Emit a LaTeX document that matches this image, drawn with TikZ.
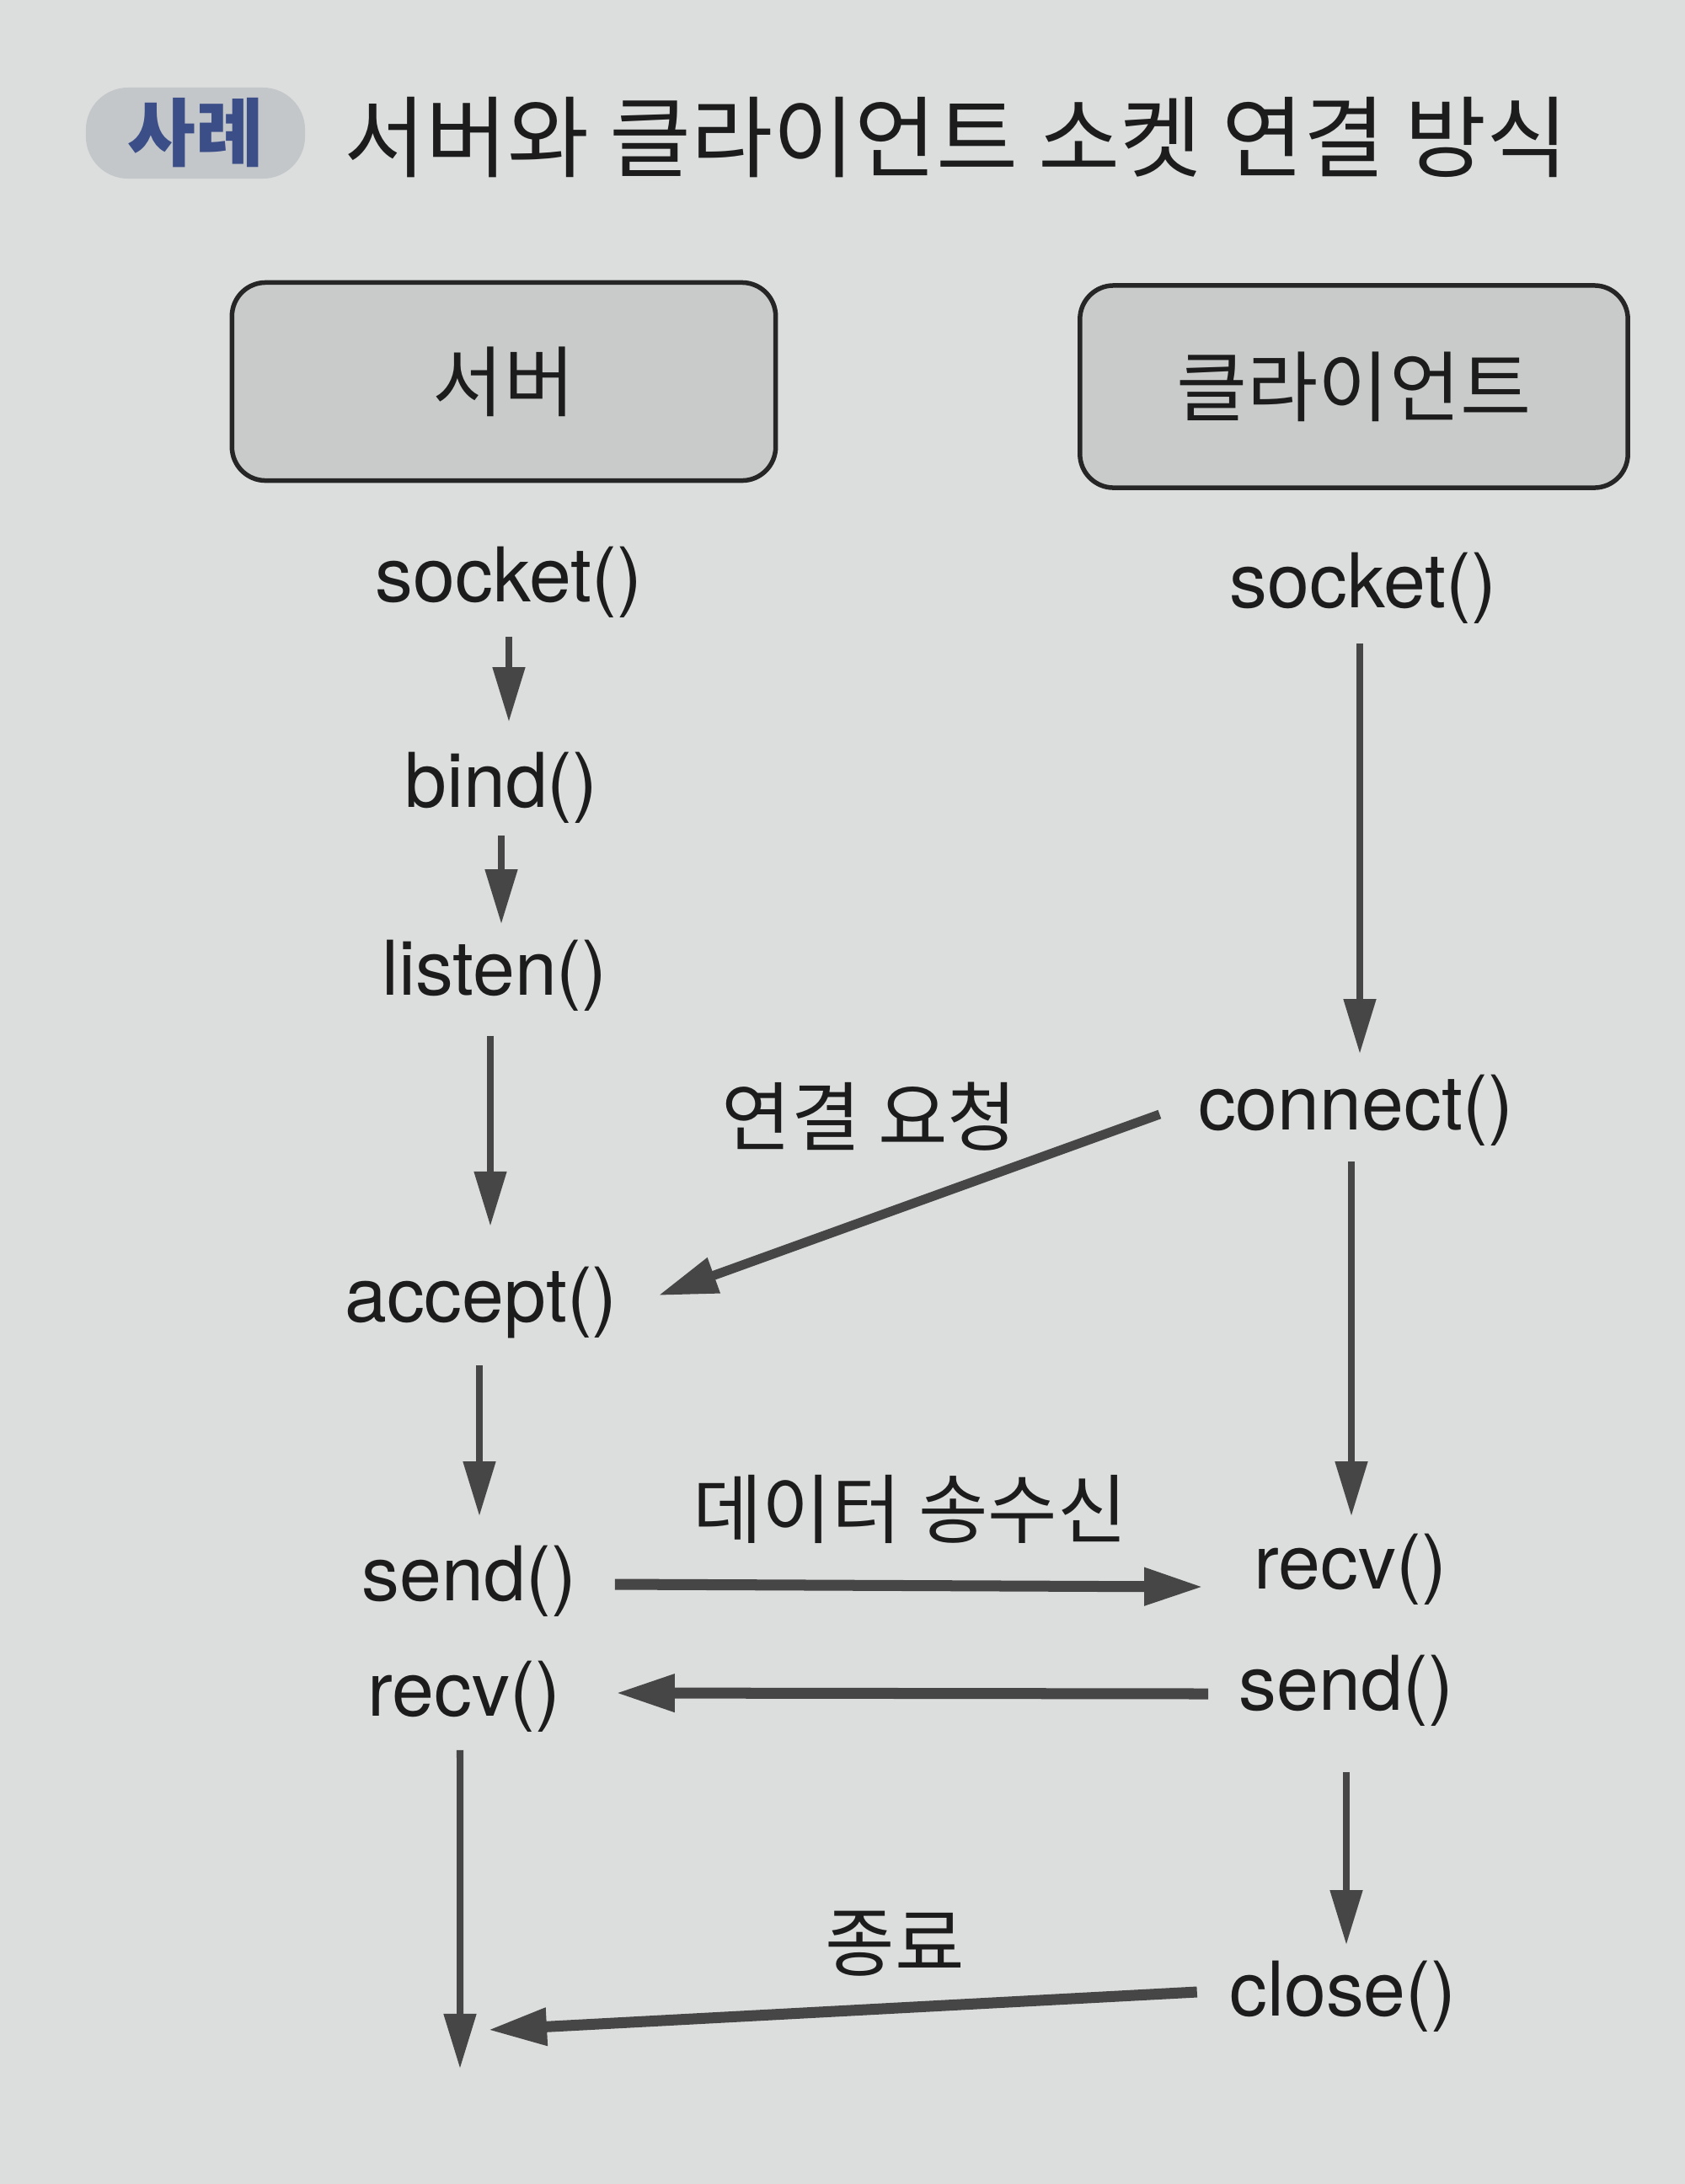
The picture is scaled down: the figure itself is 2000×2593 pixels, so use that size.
\documentclass[tikz,border=0pt]{standalone}
\usepackage{fontspec}
\setmainfont{TeX Gyre Heros}
\newfontfamily\krfont{Noto Sans CJK KR}
\usetikzlibrary{arrows.meta}
\definecolor{bgc}{HTML}{DCDEDD}
\definecolor{boxfill}{HTML}{C9CBCB}
\definecolor{boxline}{HTML}{262626}
\definecolor{ink}{HTML}{1C1C1C}
\definecolor{arrc}{HTML}{464646}
\definecolor{pillc}{HTML}{C4C7CA}
\definecolor{pilltext}{HTML}{3B4E88}
\begin{document}
\begin{tikzpicture}[x=0.01cm,y=-0.01cm,
  fn/.style={font=\fontsize{25.5}{25.5}\selectfont, text=ink, inner sep=0pt},
  krl/.style={font=\krfont\fontsize{25.5}{25.5}\selectfont, text=ink, inner sep=0pt},
  titlestyle/.style={font=\krfont\fontsize{30}{30}\selectfont, text=ink, inner sep=0pt},
  headbox/.style={draw=boxline, fill=boxfill, line width=0.055cm, rounded corners=0.4cm,
    font=\krfont\fontsize{26}{26}\selectfont, text=ink},
  varr/.style={draw=arrc, line width=0.08cm, -{Triangle[length=0.65cm,width=0.37cm]}},
  harr/.style={draw=arrc, line width=0.13cm, -{Triangle[length=0.7cm,width=0.42cm]}}]
\fill[bgc] (0,0) rectangle (2000,2593);
\useasboundingbox (0,0) rectangle (2000,2593);

% title
\node[fill=pillc, rounded corners=0.5cm, minimum width=2.6cm, minimum height=1.08cm,
  font=\krfont\bfseries\fontsize{25}{25}\selectfont, text=pilltext] (pill) at (232,158) {사례};
\node[titlestyle, anchor=west] (title) at (408,163) {서버와 클라이언트 소켓 연결 방식};

% boxes
\node[headbox, minimum width=6.45cm, minimum height=2.35cm] (server) at (598,453) {서버};
\node[headbox, minimum width=6.5cm, minimum height=2.4cm] (client) at (1607,459) {클라이언트};

% server column
\node[fn] (ss) at (604,691) {socket()};
\node[fn] (bind) at (595,935) {bind()};
\node[fn] (listen) at (587,1158) {listen()};
\node[fn] (accept) at (571,1547) {accept()};
\node[fn] (ssend) at (557,1877) {send()};
\node[fn] (srecv) at (551,2014) {recv()};
\coordinate (send) at (546,2456);

% client column
\node[fn] (cs) at (1618,698) {socket()};
\node[fn] (conn) at (1609,1318) {connect()};
\node[fn] (crecv) at (1603,1863) {recv()};
\node[fn] (csend) at (1598,2007) {send()};
\node[fn] (close) at (1594,2370) {close()};
\coordinate (cend) at (579,2410);

% labels
\node[krl] (lreq) at (1032,1326) {연결 요청};
\node[krl] (ldata) at (1080,1792) {데이터 송수신};
\node[krl] (lend) at (1062,2308) {종료};

% server arrows
\draw[varr, shorten <=0.22cm, shorten >=0.35cm] (ss.south) -- (ss.south |- bind.north);
\draw[varr, shorten <=0.14cm, shorten >=0.18cm] (bind.south) -- (bind.south |- listen.north);
\draw[varr, shorten <=0.29cm, shorten >=0.48cm] ([xshift=-0.05cm]listen.south) -- ([xshift=-0.05cm]listen.south |- accept.north);
\draw[varr, shorten <=0.31cm, shorten >=0.34cm] ([xshift=-0.02cm]accept.south) -- ([xshift=-0.02cm]accept.south |- ssend.north);
\draw[varr, shorten <=0.21cm] ([xshift=-0.05cm]srecv.south) -- (send);

% client arrows
\draw[varr, shorten <=0.23cm, shorten >=0.24cm] ([xshift=-0.04cm]cs.south) -- ([xshift=-0.04cm]cs.south |- conn.north);
\draw[varr, shorten <=0.18cm, shorten >=0.2cm] ([xshift=-0.05cm]conn.south) -- ([xshift=-0.05cm]conn.south |- crecv.north);
\draw[varr, shorten <=0.54cm, shorten >=0.18cm] (csend.south) -- (csend.south |- close.north);

% cross arrows
\draw[harr, line width=0.11cm] ([xshift=-0.45cm,yshift=-0.05cm]conn.west) -- ([xshift=0.48cm,yshift=0.09cm]accept.east);
\draw[harr] ([xshift=0.45cm,yshift=-0.04cm]ssend.east) -- ([xshift=-0.6cm,yshift=-0.21cm]crecv.west);
\draw[harr] ([xshift=-0.36cm,yshift=-0.04cm]csend.west) -- ([xshift=0.65cm,yshift=0.04cm]srecv.east);
\draw[harr] ([xshift=-0.38cm,yshift=0.05cm]close.west) -- (cend);
\end{tikzpicture}
\end{document}
